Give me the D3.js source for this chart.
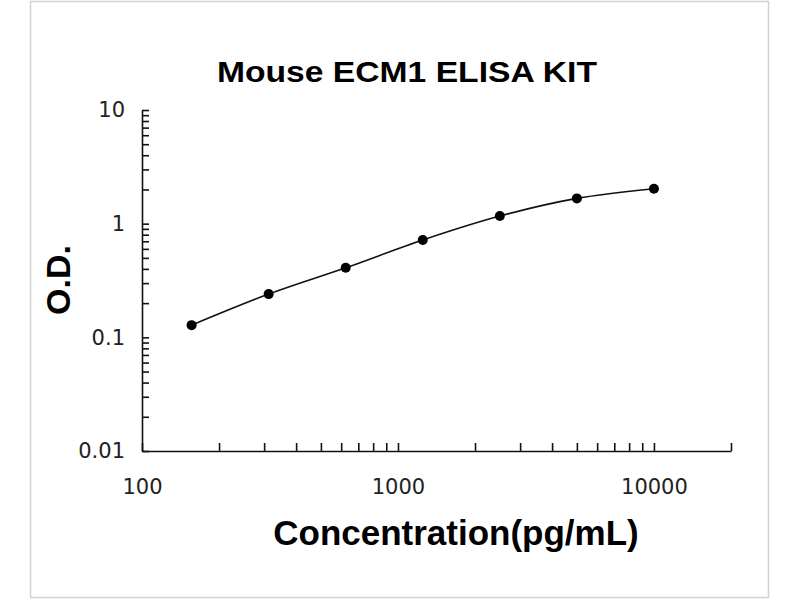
<!DOCTYPE html>
<html>
<head>
<meta charset="utf-8">
<script src="https://cdn.jsdelivr.net/npm/d3@7"></script>
<style>
  body { margin: 0; background: #fff; }
</style>
</head>
<body>
<div id="chart"></div>
<script>
// data
var concentration = [156.25, 312.5, 625, 1250, 2500, 5000, 10000];
var od = [0.128, 0.240, 0.409, 0.718, 1.166, 1.668, 2.03];

var xTickValues = [100, 200, 300, 400, 500, 600, 700, 800, 900, 1000,
                   2000, 3000, 4000, 5000, 6000, 7000, 8000, 9000, 10000, 20000];
var xTickLabels = [100, 1000, 10000];
var yTickValues = [0.01, 0.02, 0.03, 0.04, 0.05, 0.06, 0.07, 0.08, 0.09, 0.1,
                   0.2, 0.3, 0.4, 0.5, 0.6, 0.7, 0.8, 0.9, 1,
                   2, 3, 4, 5, 6, 7, 8, 9, 10];
var yTickLabels = [0.01, 0.1, 1, 10];

var width = 800, height = 600;

var svg = d3.select('#chart').append('svg')
    .attr('width', width)
    .attr('height', height);

// light frame round the picture
svg.append('rect')
    .attr('x', 30.5).attr('y', 1.5)
    .attr('width', 738).attr('height', 596)
    .attr('fill', 'none')
    .attr('stroke', '#d2d2d2')
    .attr('stroke-width', 1.5);

var x = d3.scaleLog().domain([100, 20000]).range([142, 731]);
var y = d3.scaleLog().domain([0.01, 10]).range([451, 110]);

// x axis, ticks pointing up into the plot
var xAxis = svg.append('g')
    .attr('transform', 'translate(0,' + y(0.01) + ')')
    .call(d3.axisBottom(x)
        .tickValues(xTickValues)
        .tickSizeInner(-8)
        .tickSizeOuter(0)
        .tickPadding(28)
        .tickFormat(function(d){ return xTickLabels.indexOf(d) >= 0 ? d : ''; }));

// y axis, ticks pointing right
var yAxis = svg.append('g')
    .attr('transform', 'translate(' + x(100) + ',0)')
    .call(d3.axisLeft(y)
        .tickValues(yTickValues)
        .tickSizeInner(-7)
        .tickSizeOuter(0)
        .tickPadding(17)
        .tickFormat(function(d){ return yTickLabels.indexOf(d) >= 0 ? d : ''; }));

svg.selectAll('.domain, .tick line')
    .attr('stroke', '#111')
    .attr('stroke-width', 1.6);
svg.selectAll('.tick text')
    .attr('fill', '#222')
    .style('font-family', 'DejaVu Sans')
    .style('font-size', '21px');

// curve through the standards
var points = concentration.map(function(c, i){ return {c: c, v: od[i]}; });

svg.append('path')
    .datum(points)
    .attr('fill', 'none')
    .attr('stroke', '#111')
    .attr('stroke-width', 1.6)
    .attr('d', d3.line()
        .curve(d3.curveMonotoneX)
        .x(function(d){ return x(d.c); })
        .y(function(d){ return y(d.v); }));

svg.selectAll('circle.pt')
    .data(points)
    .enter().append('circle')
    .attr('class', 'pt')
    .attr('cx', function(d){ return x(d.c); })
    .attr('cy', function(d){ return y(d.v); })
    .attr('r', 5)
    .attr('fill', '#000');

// titles
svg.append('text')
    .attr('x', 407).attr('y', 82)
    .attr('text-anchor', 'middle')
    .attr('textLength', 380)
    .attr('lengthAdjust', 'spacingAndGlyphs')
    .style('font-family', 'Liberation Sans, Arial, sans-serif')
    .style('font-weight', 'bold')
    .style('font-size', '30px')
    .text('Mouse ECM1 ELISA KIT');

svg.append('text')
    .attr('x', 456).attr('y', 545)
    .attr('text-anchor', 'middle')
    .style('font-family', 'Liberation Sans, Arial, sans-serif')
    .style('font-weight', 'bold')
    .style('font-size', '35px')
    .text('Concentration(pg/mL)');

svg.append('text')
    .attr('transform', 'translate(70,280) rotate(-90)')
    .attr('text-anchor', 'middle')
    .style('font-family', 'Liberation Sans, Arial, sans-serif')
    .style('font-weight', 'bold')
    .style('font-size', '34px')
    .text('O.D.');
</script>
</body>
</html>
